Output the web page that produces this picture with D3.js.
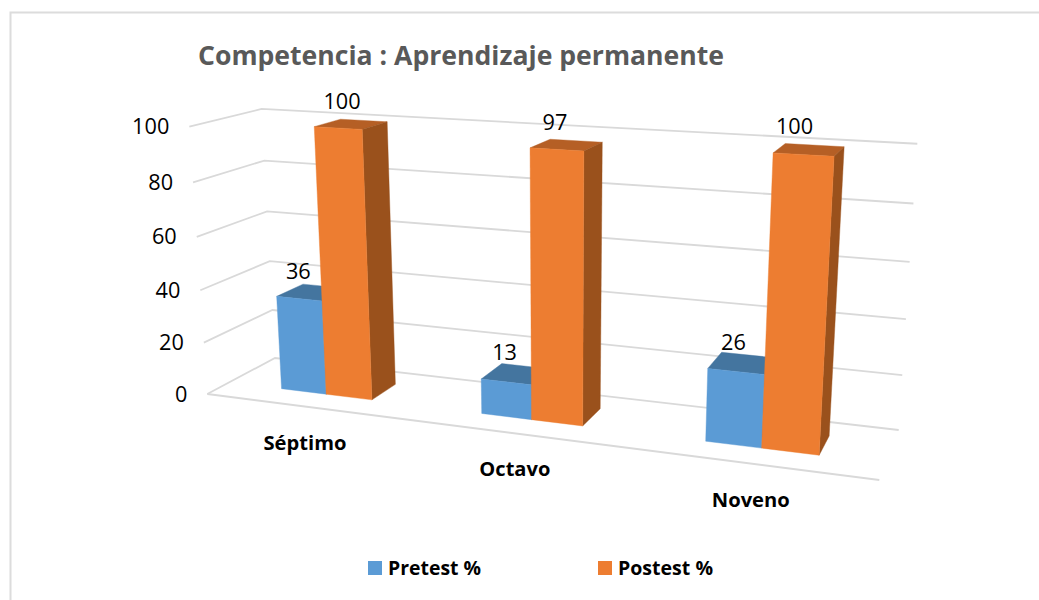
<!DOCTYPE html>
<html><head><meta charset="utf-8">
<script src="https://cdn.jsdelivr.net/npm/d3@7"></script>
<style>html,body{margin:0;padding:0;background:#fff;overflow:hidden}svg{display:block}text{font-family:"Open Sans",sans-serif}</style>
</head><body><svg id="c" width="1039" height="600"></svg>
<script>
const categories = ["Séptimo","Octavo","Noveno"];
const seriesNames = ["Pretest %","Postest %"];
const pretest = [36,13,26];
const postest = [100,97,100];
const tickValues = [0,20,40,60,80,100];
const titleText = "Competencia : Aprendizaje permanente";
const colors = {
  "Pretest %":{front:"#5B9BD5",top:"#44759F",side:"#3C6A94"},
  "Postest %":{front:"#ED7D31",top:"#B55F25",side:"#9A511C"}
};
const floorQuad = [[207.3,394],[879.3,480],[898.7,430],[275,358]];
const nadir = [560,5637];              // vanishing point of the vertical edges
const perspective = [1.84e-7,9.65e-5,.01045];

function homography(q){
  const [[x0,y0],[x1,y1],[x2,y2],[x3,y3]] = q;
  const dx1=x1-x2,dx2=x3-x2,sx=x0-x1+x2-x3,dy1=y1-y2,dy2=y3-y2,sy=y0-y1+y2-y3;
  const den=dx1*dy2-dx2*dy1,g=(sx*dy2-dx2*sy)/den,h=(dx1*sy-sx*dy1)/den;
  const a=x1-x0+g*x1,b=x3-x0+h*x3,d=y1-y0+g*y1,e=y3-y0+h*y3;
  return (u,v)=>{const w=g*u+h*v+1;return [(a*u+b*v+x0)/w,(d*u+e*v+y0)/w];};
}
const floorH = homography(floorQuad);
const yScale = d3.scaleLinear().domain([0,100]).range([0,1]);
const project = (u,v,val)=>{
  const f=floorH(u,v);
  const A=perspective[0]*f[0]+perspective[1]*f[1]+perspective[2];
  const F=1/(1-yScale(val)*A);
  return [nadir[0]+(f[0]-nadir[0])*F,nadir[1]+(f[1]-nadir[1])*F];
};
const xBand = d3.scaleBand().domain(categories).range([.003,1.003]).paddingInner(.535).paddingOuter(.27);
const xSeries = d3.scaleBand().domain(seriesNames).range([0,xBand.bandwidth()]);
const depth = d3.scaleLinear().domain([0,1]).range([.31,.71]);
const line = d3.line();
const svg = d3.select("#c");

svg.append("path").attr("d","M10.5,600V12.5H1039").attr("fill","none").attr("stroke","#dcdcdc").attr("stroke-width",2);

svg.append("text").attr("x",198).attr("y",65).attr("font-size",27).attr("font-weight",700)
  .attr("fill","#595959").attr("textLength",526).attr("lengthAdjust","spacingAndGlyphs").text(titleText);

// grid
const grid = svg.append("g").attr("fill","none").attr("stroke","#d9d9d9").attr("stroke-width",1.8);
tickValues.forEach(t=>{
  grid.append("path").attr("d",line([project(0,0,t),project(0,1,t),project(1,1,t)]));
});
grid.append("path").attr("d",line([project(0,0,0),project(1,0,0)]));

// tick labels
svg.append("g").selectAll("text").data(tickValues).join("text")
  .attr("x",d=>project(0,0,d)[0]-20).attr("y",d=>project(0,0,d)[1]+7.5)
  .attr("text-anchor","end").attr("font-size",21).attr("fill","#000")
  .attr("textLength",d=>String(d).length*12.4).attr("lengthAdjust","spacingAndGlyphs").text(d=>d);

// bars
const series = [
  {name:"Pretest %",values:pretest,dx:x=>-14+.0116*(x-312),dy:-21},
  {name:"Postest %",values:postest,dx:x=>-9-.012*(x-350),dy:-23}
];
const barsG = svg.append("g");
categories.forEach((cat,i)=>{
  series.forEach(s=>{
    const val=s.values[i], c=colors[s.name];
    const u0=xBand(cat)+xSeries(s.name), u1=u0+xSeries.bandwidth();
    const v0=depth(0), v1=depth(1);
    const g=barsG.append("g");
    const poly=(pts,fill)=>g.append("path").attr("d",line(pts)+"Z").attr("fill",fill).attr("stroke",fill).attr("stroke-width",.4);
    poly([project(u0,v0,val),project(u1,v0,val),project(u1,v1,val),project(u0,v1,val)],c.top);
    poly([project(u1,v0,0),project(u1,v1,0),project(u1,v1,val),project(u1,v0,val)],c.side);
    poly([project(u0,v0,0),project(u1,v0,0),project(u1,v0,val),project(u0,v0,val)],c.front);
  });
});
// data labels
series.forEach(s=>{
  categories.forEach((cat,i)=>{
    const val=s.values[i];
    const u=xBand(cat)+xSeries(s.name)+xSeries.bandwidth()/2;
    const p=project(u,depth(.5),val);
    svg.append("text").attr("x",p[0]+s.dx(p[0])).attr("y",p[1]+s.dy+7.5).attr("text-anchor","middle")
      .attr("font-size",21).attr("fill","#000")
      .attr("textLength",String(val).length*12.4).attr("lengthAdjust","spacingAndGlyphs").text(val);
  });
});
// category labels
const catWidths=[83,71,78];
categories.forEach((cat,i)=>{
  const p=project(xBand(cat)+xBand.bandwidth()/2,0,0);
  svg.append("text").attr("x",p[0]-1).attr("y",p[1]+43).attr("text-anchor","middle")
    .attr("font-size",19.5).attr("font-weight",700).attr("fill","#000")
    .attr("textLength",catWidths[i]).attr("lengthAdjust","spacingAndGlyphs").text(cat);
});
// legend
const legendX = d3.scaleOrdinal().domain(seriesNames).range([368,598]);
const legendW = [93,95];
const legend = svg.append("g");
seriesNames.forEach((n,i)=>{
  legend.append("rect").attr("x",legendX(n)).attr("y",561).attr("width",14).attr("height",14).attr("fill",colors[n].front);
  legend.append("text").attr("x",legendX(n)+20).attr("y",575).attr("font-size",19.5).attr("font-weight",700)
    .attr("fill","#000").attr("textLength",legendW[i]).attr("lengthAdjust","spacingAndGlyphs").text(n);
});
</script></body></html>
